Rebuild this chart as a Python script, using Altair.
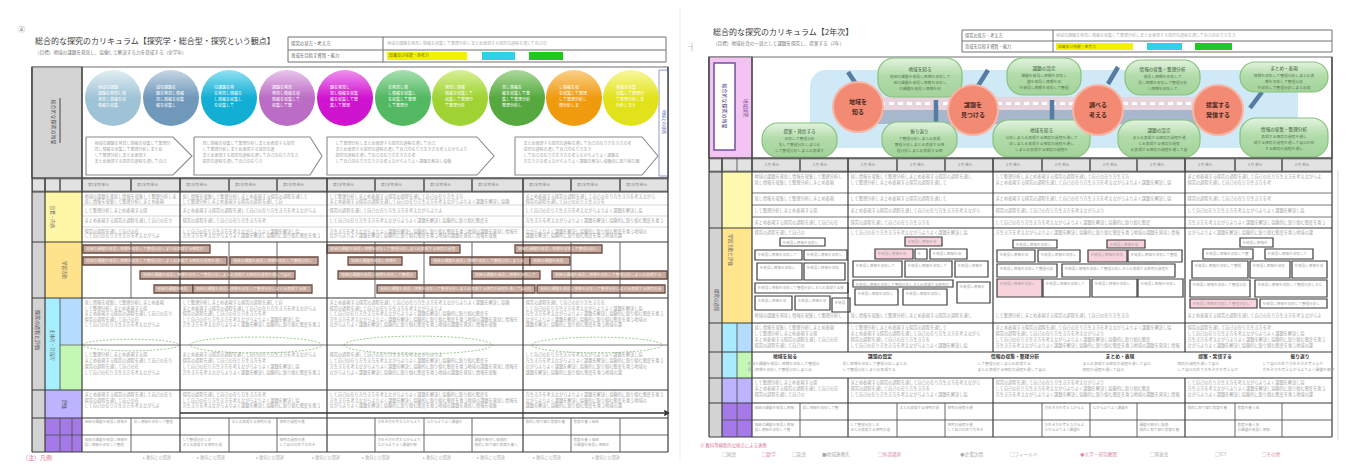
import altair as alt
import pandas as pd

FONT = "Noto Sans CJK JP"
XS = alt.Scale(domain=[8, 1340], nice=False, zero=False)
YS = alt.Scale(domain=[8, 462], nice=False, zero=False, reverse=True)

# ---------------- texts ----------------
L_TITLE = "総合的な探究のカリキュラム【探究学・総合型・探究という観点】"
L_SUB = "（目標）地域の課題を発見し、協働して解決する力を育成する（全学年）"
R_TITLE = "総合的な探究のカリキュラム【2年次】"
R_SUB = "（目標）地域社会の一員として課題を探究し、提案する（2年）"
SRC = ("地域の課題を発見し情報を収集して整理分析しまとめ表現する探究の過程を通して"
       "自己の在り方生き方を考えながらよりよく課題を解決し協働的に取り組む態度を養う")
FILLS = [1.0, 0.9, 0.72, 0.95, 0.6, 0.85]

# ---------------- left page layout ----------------
L_COLS = [82, 131, 180, 229, 277, 327, 375, 424, 472, 523, 571, 620, 668]
L_MAJOR = [82, 180, 327, 523, 668]
L_SECT = [192, 242, 298, 390, 418, 452]
L_CIRC_X = [113, 171, 229, 287, 345, 403, 460, 517, 574, 631]
L_CIRC_BASE = ["#9fc3d6", "#6f98bb", "#13aed4", "#bb6cc4", "#cf14cf",
               "#52b862", "#9fd233", "#55a93f", "#f09a0e", "#e2e21c"]
L_CIRC_TOP = ["#e2edf3", "#c6d6e4", "#92e2f3", "#e8c6ec", "#ef92ef",
              "#a8e0b0", "#d8f095", "#abd99c", "#f9d18a", "#f8f8a0"]
CHEV_X0 = [86, 194, 327, 515]
CHEV_X1 = [173, 310, 477, 642]
CHEV_TIP = [192, 322, 494, 658]
L_BOX_X0 = [83, 327, 515, 83, 230, 348, 430, 530, 140, 338, 472, 552, 154, 193, 377, 537]
L_BOX_X1 = [210, 460, 602, 227, 318, 402, 530, 570, 295, 417, 540, 667, 193, 312, 535, 665]
L_BOX_Y0 = [245, 245, 245, 257, 257, 257, 257, 257, 271, 271, 271, 271, 285, 285, 285, 285]
L_ELL_X = [131, 256, 418, 597]
L_ELL_W = [96, 132, 148, 130]

# ---------------- right page layout ----------------
R_COLS = [752, 800, 848, 897, 945, 993, 1042, 1090, 1137, 1185, 1235, 1282, 1332]
R_MAJOR = [752, 848, 993, 1185, 1332]
R_SECT = [172, 228, 323, 352, 378, 403, 437]
R_CIRC_X = [858, 973, 1098, 1218]
R_CIRC_Y = [107, 110, 110, 110]
R_PILL_X0 = [878, 1007, 1125, 1240, 762, 882, 993, 1118, 1240]
R_PILL_X1 = [962, 1081, 1200, 1328, 837, 957, 1090, 1200, 1328]
R_PILL_Y0 = [58, 58, 60, 62, 123, 122, 120, 120, 118]
R_PILL_Y1 = [97, 95, 95, 92, 157, 157, 157, 157, 157]
R_BOXES = [
    (780, 825, 238, 246, 0), (755, 802, 250, 260, 0), (804, 847, 250, 260, 0),
    (757, 802, 263, 280, 0), (804, 845, 263, 280, 0), (755, 848, 283, 293, 0),
    (755, 792, 296, 310, 0), (795, 830, 296, 310, 0), (832, 850, 298, 312, 0),
    (905, 942, 237, 246, 1), (875, 913, 249, 259, 1), (915, 927, 249, 259, 0),
    (930, 967, 249, 259, 0), (853, 902, 261, 277, 0), (905, 952, 261, 277, 0),
    (955, 988, 261, 277, 0), (853, 953, 280, 287, 0), (957, 990, 282, 303, 0),
    (855, 898, 289, 305, 0), (903, 947, 289, 305, 0),
    (1013, 1057, 240, 248, 0), (1107, 1145, 240, 248, 1), (997, 1035, 250, 262, 0),
    (1038, 1080, 250, 262, 0), (1088, 1127, 250, 262, 1), (1128, 1182, 250, 262, 0),
    (997, 1057, 264, 277, 0), (1062, 1175, 264, 277, 0), (997, 1042, 279, 297, 1),
    (1043, 1090, 279, 297, 0), (1092, 1137, 279, 297, 0), (1138, 1183, 279, 297, 0),
    (1240, 1273, 238, 247, 0), (1203, 1253, 249, 259, 0), (1265, 1313, 249, 259, 0),
    (1192, 1248, 261, 278, 0), (1250, 1290, 261, 278, 0), (1292, 1327, 261, 278, 0),
    (1190, 1250, 280, 297, 0), (1255, 1327, 280, 297, 0), (1190, 1257, 299, 308, 1),
    (1260, 1327, 299, 308, 0),
]
R_HEADS_X = [785, 880, 1015, 1120, 1215, 1300]
R_HEADS = ["地域を知る", "課題の設定", "情報の収集・整理分析", "まとめ・表現", "提案・発信する", "振り返り"]

# ---------------- builders ----------------
rects, rules, texts, vtexts = [], [], [], []
TX = "#a2a2a2"


def box(x0, x1, y0, y1, fill="white", stroke="transparent", sw=0.0):
    rects.append(dict(x=x0, x2=x1, y=y0, y2=y1, fill=fill, stroke=stroke, sw=sw))


def rule(x0, x1, y0, y1, c="#3c3c3c", w=1.2):
    rules.append(dict(x=x0, x2=x1, y=y0, y2=y1, c=c, w=w))


def lines(x0, x1, ys, size=4.2, color=TX, k=0):
    for i, y in enumerate(ys):
        n = max(1, int((x1 - x0 - 5) / size * FILLS[(i + k) % len(FILLS)]))
        st = ((i + k) * 7) % len(SRC)
        texts.append(dict(x=x0 + 2.5, y=y, t=(SRC + SRC)[st:st + n], s=size, c=color))


# ===== left page =====
box(32, 668, 67, 178, "white", "#707070", 1.2)
box(32, 82, 67, 178, "#d4d4d4", "#707070", 1.2)
box(659, 668, 70, 176, "white", "#8a9ad0", 1.0)
box(32, 668, 178, 192, "#8c8c8c")
for a, b in zip([32, 45, 60] + L_COLS[:-1], [45, 60, 82] + L_COLS[1:]):
    box(a + 1, b - 1, 179.5, 190.5, "#e2e2e2")
    if b - a > 30:
        texts.append(dict(x=a + 6, y=185, t="第1学期 単元", s=3.6, c="#8a8a8a"))
box(32, 45, 192, 452, "#d3d3d3")
box(45, 82, 192, 242, "#fff7a6")
box(45, 82, 242, 298, "#ffe38c")
box(45, 60, 298, 390, "#a6efff")
box(60, 82, 298, 345, "#b3dcff")
box(60, 82, 345, 390, "#c3f8b4")
box(45, 82, 390, 418, "#bcb4ff")
box(45, 82, 418, 452, "#a57ae8")
# info table
box(288, 666, 37, 62, "white", "#707070", 1.0)
box(387, 467, 52, 60, "#f2f200")
box(482, 515, 52, 60, "#2fd0e8")
box(529, 563, 52, 60, "#1ec81e")
rule(288, 666, 50, 50, "#707070", 1.0)
rule(383, 383, 37, 62, "#707070", 1.0)
for x0, x1, y0 in zip(L_BOX_X0, L_BOX_X1, L_BOX_Y0):
    box(x0, x1, y0, y0 + 8, "#c6a99d", "#6b4c44", 1.3)
    n = int((x1 - x0 - 6) / 3.8)
    texts.append(dict(x=x0 + 3, y=y0 + 4, t=SRC[:n], s=3.8, c="#f8efe9"))

for y in L_SECT:
    rule(32, 668, y, y)
rule(32, 668, 178, 178)
rule(60, 668, 345, 345, "#707070", 0.9)
rule(45, 668, 435, 435, "#555555", 0.9)
for y in [205, 216, 227]:
    rule(82, 668, y, y, "#bdbdbd", 0.6)
rule(32, 32, 67, 452)
rule(45, 45, 178, 452)
rule(82, 82, 67, 452)
rule(668, 668, 67, 452)
rule(60, 60, 178, 192, "#555555", 0.9)
rule(60, 60, 298, 390, "#555555", 0.9)
rule(60, 60, 418, 452, "#555555", 0.9)
rule(72, 72, 418, 452, "#555555", 0.9)
rule(60, 60, 98, 143, "#444444", 1.0)
for x in L_MAJOR[1:-1]:
    rule(x, x, 178, 452)
for x in L_COLS:
    if x not in L_MAJOR:
        rule(x, x, 178, 192, "#555555", 0.9)
        rule(x, x, 242, 298, "#555555", 0.9)
        rule(x, x, 418, 452, "#555555", 0.9)
rule(180, 664, 413, 413, "#333333", 1.6)

for j in range(4):
    a, b = L_MAJOR[j], L_MAJOR[j + 1]
    lines(a, b, [197, 201.5, 210.5, 221, 231.5, 236], k=j)
    lines(a, b, [303, 308.5, 314, 319.5, 325], k=j + 1)
    lines(a, b, [355, 361, 367, 373], k=j + 2)
    lines(a, b, [395, 400.5, 406], k=j + 3)
for i, (a, b) in enumerate(zip(L_COLS[:-1], L_COLS[1:])):
    if i % 3 != 2:
        lines(a, b, [422], size=3.6, k=i)
    if i % 2 == 0:
        lines(a, b, [440, 445], size=3.6, k=i)
for j in range(4):
    lines(CHEV_X0[j] + 6, CHEV_X1[j], [144, 150, 156, 162], size=4.0, color="#a5a5a5", k=j)
for i, cx in enumerate(L_CIRC_X):
    for m, y in enumerate([88, 94, 100, 106]):
        n = [5, 7, 7, 5][m]
        texts.append(dict(x=cx - 15, y=y, t=SRC[i + m * 3:i + m * 3 + n], s=4.0, c="#ffffff"))

texts += [
    dict(x=35, y=42, t=L_TITLE, s=8, c="#3a3a3a"),
    dict(x=35, y=53, t=L_SUB, s=4.6, c="#7a7a7a"),
    dict(x=18, y=30, t="④", s=7, c="#777777"),
    dict(x=291, y=43.5, t="探究の見方・考え方", s=4.4, c="#666666"),
    dict(x=387, y=43.5, t=SRC[:40], s=4.0, c="#b0b0b0"),
    dict(x=291, y=56, t="育成を目指す資質・能力", s=4.4, c="#666666"),
    dict(x=389, y=56, t="知識及び技能・思考力", s=4.0, c="#777700"),
    dict(x=22, y=458, t="（注）凡例", s=6, c="#e07a98"),
]
for x in [143, 197, 256, 312, 362, 423, 477, 533, 592]:
    texts.append(dict(x=x, y=458, t="▸ 教科との関連", s=4.2, c="#b5b5b5"))
vtexts += [
    dict(x=54, y=122, t="総合的な探究の時間", s=5, c="#555555"),
    dict(x=38, y=330, t="探究の過程と評価", s=5, c="#555555"),
    dict(x=52, y=217, t="目標・内容", s=4.5, c="#666666"),
    dict(x=64, y=270, t="学習活動", s=4.5, c="#666666"),
    dict(x=52, y=345, t="主体的・対話的", s=4.5, c="#666666"),
    dict(x=64, y=404, t="評価", s=4.5, c="#444444"),
    dict(x=663, y=122, t="地域との連携", s=4, c="#6070b0"),
]

# ===== right page =====
box(709, 1332, 57, 158, "white", "#707070", 1.2)
box(709, 752, 57, 158, "#f3c4f3", "#707070", 1.2)
box(714, 735, 63, 150, "white", "#7050a0", 1.5)
box(709, 1332, 158, 172, "#8c8c8c")
for a, b in zip([709, 722] + R_COLS[:-1], [722, 752] + R_COLS[1:]):
    box(a + 1, b - 1, 159.5, 170.5, "#e2e2e2")
    if b - a > 30:
        texts.append(dict(x=a + 12, y=165, t="４月 単元", s=3.6, c="#8a8a8a"))
box(709, 722, 172, 437, "#d3d3d3")
box(722, 752, 172, 228, "#fff9b0")
box(722, 752, 228, 323, "#ffe68e")
box(722, 737, 323, 378, "#a9ecff")
box(737, 752, 323, 352, "#b5dcff")
box(737, 752, 352, 378, "#c3f8b4")
box(722, 752, 378, 403, "#bcb4ff")
box(722, 752, 403, 437, "#a57ae8")
box(962, 1332, 30, 52, "white", "#707070", 1.0)
box(1056, 1133, 43, 50, "#f2f200")
box(1147, 1182, 43, 50, "#2fd0e8")
box(1195, 1232, 43, 50, "#1ec81e")
rule(962, 1332, 41, 41, "#707070", 1.0)
rule(1053, 1053, 30, 52, "#707070", 1.0)
for x0, x1, y0, y1, p in R_BOXES:
    box(x0, x1, y0, y1, "#f9d3dc" if p else "white", "#3c3c3c", 1.2)
    n = int((x1 - x0 - 6) / 3.6)
    texts.append(dict(x=x0 + 2.5, y=y0 + 4.5, t=SRC[5:5 + n], s=3.6, c="#a0a0a0"))

for y in R_SECT:
    rule(709, 1332, y, y)
rule(709, 1332, 158, 158)
for y in [193, 205, 217]:
    rule(752, 1332, y, y, "#6a6a6a", 0.9)
rule(722, 1332, 420, 420, "#555555", 0.9)
rule(709, 709, 57, 437)
rule(722, 722, 158, 437)
rule(752, 752, 57, 437)
rule(1332, 1332, 57, 437)
rule(737, 737, 158, 172, "#555555", 0.9)
rule(737, 737, 323, 437, "#555555", 0.9)
for x in R_MAJOR[1:-1]:
    rule(x, x, 158, 352)
    rule(x, x, 378, 437)
for x in R_COLS:
    if x not in R_MAJOR:
        rule(x, x, 158, 172, "#555555", 0.9)
        rule(x, x, 403, 437, "#555555", 0.9)
rule(1338, 1338, 170, 440, "#cfcfcf", 0.8)
rule(680, 680, 0, 470, "#ececec", 1.0)

for j in range(4):
    a, b = R_MAJOR[j], R_MAJOR[j + 1]
    lines(a, b, [177, 182.5], k=j)
    lines(a, b, [199], k=j + 1)
    lines(a, b, [211], k=j + 2)
    lines(a, b, [222.5], k=j + 3)
    lines(a, b, [233], k=j + 4)
    lines(a, b, [316], k=j)
    lines(a, b, [328, 334, 340, 346], k=j + 1)
    lines(a, b, [383, 389, 395], k=j + 2)
for i, (a, b) in enumerate(zip(R_COLS[:-1], R_COLS[1:])):
    if i % 3 != 2:
        lines(a, b, [408], size=3.6, k=i)
    if i % 2 == 0:
        lines(a, b, [425, 430], size=3.6, k=i)
for i, hx in enumerate(R_HEADS_X):
    lines(hx - 40, hx + 40, [364, 370], size=3.8, k=i)

texts += [
    dict(x=713, y=33, t=R_TITLE, s=8, c="#3a3a3a"),
    dict(x=713, y=44, t=R_SUB, s=4.6, c="#7a7a7a"),
    dict(x=688, y=48, t="┤", s=8, c="#666666"),
    dict(x=965, y=35.5, t="探究の見方・考え方", s=4.2, c="#666666"),
    dict(x=1056, y=35.5, t=SRC[:45], s=4.0, c="#b0b0b0"),
    dict(x=965, y=46.5, t="育成を目指す資質・能力", s=4.2, c="#666666"),
    dict(x=1058, y=46.5, t="知識及び技能・思考力", s=3.8, c="#777700"),
    dict(x=700, y=446, t="※ 教科等横断的な視点による連携", s=4.4, c="#e07a98"),
]
LEG_X = [722, 762, 792, 822, 878, 960, 1010, 1080, 1150, 1215, 1262]
LEG_T = ["□国語", "□数学", "□英語", "■地域連携先", "□外部講師", "◆企業訪問", "□フィールド", "◆大学・研究機関", "□発表会", "□ICT", "□その他"]
for i, (x, t) in enumerate(zip(LEG_X, LEG_T)):
    texts.append(dict(x=x, y=455, t=t, s=4.6, c="#e08aa4" if i % 3 == 1 else "#a8a8a8"))
vtexts += [
    dict(x=724.5, y=106, t="総合的な探究の時間", s=5, c="#503080"),
    dict(x=745, y=108, t="地域探究", s=4.5, c="#7a4a90"),
    dict(x=715.5, y=300, t="探究の過程", s=4.5, c="#555555"),
    dict(x=730, y=250, t="学習活動と評価", s=4.5, c="#666666"),
]

# ---------------- layers ----------------
enc_xy = dict(x=alt.X("x:Q", scale=XS, axis=None), y=alt.Y("y:Q", scale=YS, axis=None))

rect_layer = alt.Chart(pd.DataFrame(rects)).mark_rect().encode(
    **enc_xy, x2="x2:Q", y2="y2:Q",
    fill=alt.Fill("fill:N", scale=None),
    stroke=alt.Stroke("stroke:N", scale=None),
    strokeWidth=alt.StrokeWidth("sw:Q", scale=None),
)
rule_layer = alt.Chart(pd.DataFrame(rules)).mark_rule().encode(
    **enc_xy, x2="x2:Q", y2="y2:Q",
    color=alt.Color("c:N", scale=None),
    strokeWidth=alt.StrokeWidth("w:Q", scale=None),
)

# chevrons on left page
chev = []
for j in range(4):
    pts = [(CHEV_X0[j], 137), (CHEV_X1[j], 137), (CHEV_TIP[j], 156),
           (CHEV_X1[j], 175), (CHEV_X0[j], 175), (CHEV_X0[j], 137)]
    for o, (px, py) in enumerate(pts):
        chev.append(dict(id=j, o=o, x=px, y=py))
chev_layer = alt.Chart(pd.DataFrame(chev)).mark_line(color="#8a8a8a", strokeWidth=1.1).encode(
    **enc_xy, detail="id:N", order="o:Q")

# arrow head of the timeline
arrow_layer = alt.Chart(pd.DataFrame({"x": [667], "y": [413]})).mark_point(
    shape="triangle-right", filled=True, color="#333333", size=40, opacity=1).encode(**enc_xy)

# glossy circles on left page
circle_layers = []
for cx, c_top, c_base in zip(L_CIRC_X, L_CIRC_TOP, L_CIRC_BASE):
    grad = {"gradient": "linear", "x1": 0, "y1": 0, "x2": 0, "y2": 1,
            "stops": [{"offset": 0, "color": c_top}, {"offset": 0.5, "color": c_base},
                      {"offset": 1, "color": c_base}]}
    circle_layers.append(
        alt.Chart(pd.DataFrame({"x": [cx], "y": [98]})).mark_point(
            shape="circle", filled=True, fill=grad, size=56 * 56, opacity=1, strokeWidth=0
        ).encode(**enc_xy)
    )

# dashed ellipses
ELL = "M -1 0 A 1 0.12 0 1 1 1 0 A 1 0.12 0 1 1 -1 0 Z"
ell_layer = alt.Chart(pd.DataFrame({"x": L_ELL_X, "y": [345] * 4,
                                    "sz": [w * w for w in L_ELL_W]})).mark_point(
    shape=ELL, filled=True, fill="white", stroke="#9ccf8c", strokeWidth=1.0,
    strokeDash=[2, 1.5], opacity=1).encode(**enc_xy, size=alt.Size("sz:Q", scale=None))

# right page diagram
band_layer = alt.Chart(pd.DataFrame({"x": [810], "x2": [1298], "y": [70], "y2": [148]})).mark_rect(
    cornerRadius=16, fill="#cfe9f6").encode(**enc_xy, x2="x2:Q", y2="y2:Q")
stripe_layer = alt.Chart(pd.DataFrame({"x": [862, 862], "x2": [1238, 1238], "y": [97, 110],
                                       "y2": [110, 124], "f": ["#e8d4dc", "#a7b7cc"]})).mark_rect().encode(
    **enc_xy, x2="x2:Q", y2="y2:Q", fill=alt.Fill("f:N", scale=None))
dash_layer = alt.Chart(pd.DataFrame({"x": [862], "x2": [1238], "y": [103.5]})).mark_rule(
    color="white", strokeWidth=3, strokeDash=[5, 4]).encode(**enc_xy, x2="x2:Q")
conn = pd.DataFrame({"x": [848, 988, 1118, 1262, 936, 1052], "x2": [858, 978, 1108, 1250, 936, 1052],
                     "y": [72, 70, 67, 92, 100, 100], "y2": [87, 86, 84, 108, 126, 126]})
conn_layer = alt.Chart(conn).mark_rule(color="#557ca3", strokeWidth=4.5).encode(
    **enc_xy, x2="x2:Q", y2="y2:Q")
pill_grad = {"gradient": "linear", "x1": 0, "y1": 0, "x2": 0, "y2": 1,
             "stops": [{"offset": 0, "color": "#e3f3df"}, {"offset": 0.45, "color": "#b2dcaa"},
                       {"offset": 1, "color": "#a3d39a"}]}
pill_layer = alt.Chart(pd.DataFrame({"x": R_PILL_X0, "x2": R_PILL_X1, "y": R_PILL_Y0,
                                     "y2": R_PILL_Y1})).mark_rect(
    cornerRadius=16, fill=pill_grad, stroke="#86c27c", strokeWidth=1.2).encode(
    **enc_xy, x2="x2:Q", y2="y2:Q")
pill_text = []
for i, (a, b, t, bt) in enumerate(zip(R_PILL_X0, R_PILL_X1, R_PILL_Y0, R_PILL_Y1)):
    mid = (t + bt) / 2
    pill_text.append(dict(x=(a + b) / 2, y=mid - 8, t=R_HEADS[i % len(R_HEADS)], s=4.6, c="#3c5a3a"))
    for m, dy in enumerate([-1, 5, 11]):
        n = int((b - a - 22) / 3.8 * FILLS[(i + m) % 6])
        pill_text.append(dict(x=(a + b) / 2, y=mid + dy, t=SRC[i * 3 + m:i * 3 + m + n], s=3.8, c="#5b7a58"))
pill_text_layer = alt.Chart(pd.DataFrame(pill_text)).mark_text(font=FONT, align="center", baseline="middle").encode(
    **enc_xy, text="t:N", size=alt.Size("s:Q", scale=None), color=alt.Color("c:N", scale=None))
rcirc_layer = alt.Chart(pd.DataFrame({"x": R_CIRC_X, "y": R_CIRC_Y})).mark_point(
    shape="circle", filled=True, fill="#f28a74", stroke="#f7b7a6", strokeWidth=2,
    size=50 * 50, opacity=1).encode(**enc_xy)
R_CIRC_T = ["地域を\n知る", "課題を\n見つける", "調べる\n考える", "提案する\n発信する"]
rc_text = []
for cx, cy, t in zip(R_CIRC_X, R_CIRC_Y, R_CIRC_T):
    a, b = t.split("\n")
    rc_text.append(dict(x=cx, y=cy - 5, t=a, s=6, c="#4a2a22"))
    rc_text.append(dict(x=cx, y=cy + 5, t=b, s=6, c="#4a2a22"))
rc_text_layer = alt.Chart(pd.DataFrame(rc_text)).mark_text(font=FONT, align="center", baseline="middle",
                                                           fontWeight="bold").encode(
    **enc_xy, text="t:N", size=alt.Size("s:Q", scale=None), color=alt.Color("c:N", scale=None))

heads_layer = alt.Chart(pd.DataFrame({"x": R_HEADS_X, "y": [357] * 6, "t": R_HEADS})).mark_text(
    font=FONT, align="center", baseline="middle", fontSize=4.8, fontWeight="bold", color="#333333").encode(
    **enc_xy, text="t:N")

text_layer = alt.Chart(pd.DataFrame(texts)).mark_text(font=FONT, align="left", baseline="middle").encode(
    **enc_xy, text="t:N", size=alt.Size("s:Q", scale=None), color=alt.Color("c:N", scale=None))
vtext_layer = alt.Chart(pd.DataFrame(vtexts)).mark_text(font=FONT, align="center", baseline="middle",
                                                        angle=90).encode(
    **enc_xy, text="t:N", size=alt.Size("s:Q", scale=None), color=alt.Color("c:N", scale=None))

chart = alt.layer(
    rect_layer, band_layer, stripe_layer, dash_layer, conn_layer, pill_layer, rcirc_layer,
    *circle_layers, ell_layer, chev_layer, rule_layer, arrow_layer,
    text_layer, vtext_layer, pill_text_layer, rc_text_layer, heads_layer,
).properties(
    width=1332, height=454, padding=0, autosize=alt.AutoSizeParams(type="none"),
    background="white",
).configure_view(stroke=None)

chart.save("out.html", embed_options={"renderer": "svg", "actions": False})
